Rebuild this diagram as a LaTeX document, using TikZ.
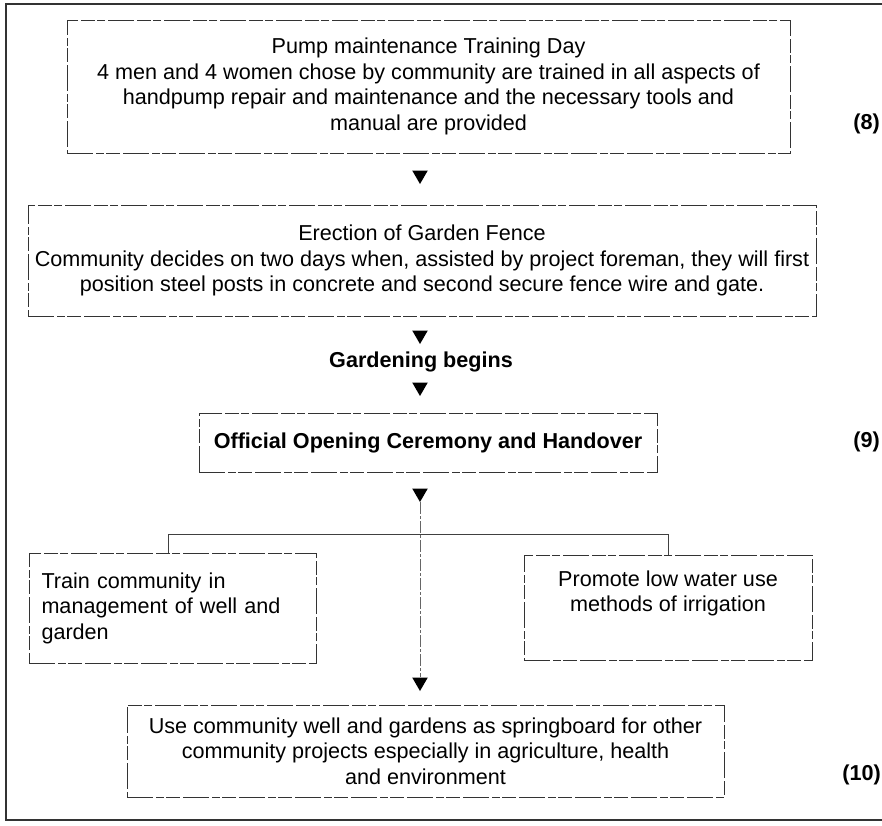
\documentclass[tikz,border=0pt]{standalone}
\usepackage{fontspec}
\setmainfont{Liberation Sans}
\usetikzlibrary{shapes.geometric}
\begin{document}
\begin{tikzpicture}[x=1pt,y=-1pt,
  every node/.style={font=\fontsize{21.6}{25.5}\selectfont, text=black},
  box/.style={draw=black!80, line width=0.9pt, dash pattern=on 26pt off 3pt on 8pt off 2pt on 14pt off 3pt,
              inner sep=0pt, align=center, minimum width=#1},
  tri/.style={regular polygon, regular polygon sides=3, shape border rotate=180,
              fill=black, draw=none, inner sep=0pt, minimum size=18pt},
  num/.style={font=\fontsize{21.6}{25.5}\selectfont\bfseries, anchor=east, inner sep=0pt},
  frame/.style={line width=1.6pt, draw=black!80},
  conn/.style={line width=0.9pt, draw=black!75},
  vconn/.style={line width=0.8pt, draw=black!60, dash pattern=on 12pt off 2pt on 3pt off 2pt}
]
\useasboundingbox (0,0) rectangle (882,825);
% outer frame (open on the right)
\coordinate (ftr) at (882,4);
\coordinate (ftl) at (6,4);
\coordinate (fbl) at (6,820);
\coordinate (fbr) at (882,820);
\draw[frame] (ftr) -- (ftl) -- (fbl) -- (fbr);

% boxes
\node[box=723pt, minimum height=133pt] (b1) at (428.5,86.5)
  {Pump maintenance Training Day\\
   4 men and 4 women chose by community are trained in all aspects of\\
   handpump repair and maintenance and the necessary tools and\\
   manual are provided};
\node[num] (n8) at (880,124) {(8)};

\node[tri] (a1) at (420,175) {};

\node[box=788pt, minimum height=111pt] (b2) at (422,260.5)
  {Erection of Garden Fence\\
   Community decides on two days when, assisted by project foreman, they will first\\
   position steel posts in concrete and second secure fence wire and gate.};

\node[tri] (a2) at (420,335) {};
\node[font=\fontsize{21.6}{25.5}\selectfont\bfseries] (gb) at (421,362) {Gardening begins};
\node[tri] (a3) at (420,387) {};

\node[box=458pt, minimum height=59pt, font=\fontsize{21.6}{25.5}\selectfont\bfseries] (b3) at (428,442.5)
  {Official Opening Ceremony and Handover};
\node[num] (n9) at (880,442) {(9)};

\node[tri] (a4) at (420,493) {};

\node[box=287pt, minimum height=110pt, align=left, text width=262pt] (b4) at (172.5,608)
  {Train community in\\management of well and\\garden};
\node[box=288pt, minimum height=105pt] (b5) at (668,607.5)
  {Promote low water use\\methods of irrigation\\\strut};

\node[tri] (a5) at (420,682) {};

\node[box=597pt, minimum height=92pt] (b6) at (425.5,751)
  {Use community well and gardens as springboard for other\\
   community projects especially in agriculture, health\\
   and environment};
\node[num] (n10) at (881,775) {(10)};

% connectors
\draw[vconn] (a4.south) -- (a5.north);
\coordinate (jl) at (168,534);
\coordinate (jr) at (668,534);
\draw[conn] (jl |- b4.north) -- (jl) -- (jr) -- (jr |- b5.north);
\end{tikzpicture}
\end{document}
